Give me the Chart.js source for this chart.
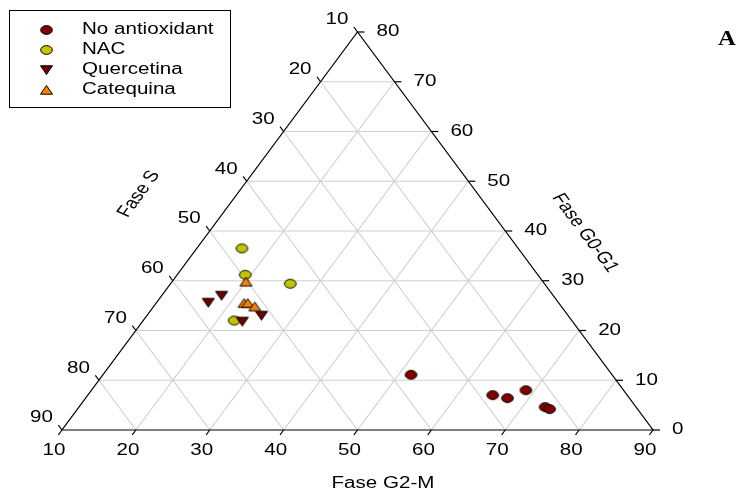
<!DOCTYPE html>
<html>
<head>
<meta charset="utf-8">
<script src="https://cdn.jsdelivr.net/npm/chart.js@4.4.0/dist/chart.umd.min.js"></script>
<style>
html, body { margin: 0; padding: 0; background: #fff; }
#wrap { width: 743px; height: 498px; }
</style>
</head>
<body>
<div id="wrap"><canvas id="ternary"></canvas></div>
<script>
// cell cycle phases in %, S = 100 - G2-M - G0-G1
var seriesNames = ['No antioxidant', 'NAC', 'Quercetina', 'Catequina'];

var noAntiG2M  = [51.7, 64.8, 67.1, 68.8, 73.1, 73.9];
var noAntiG0G1 = [11.1, 7.0, 6.4, 8.0, 4.6, 4.2];
var nacG2M     = [16.1, 19.2, 26.2, 22.3];
var nacG0G1    = [36.5, 31.2, 29.4, 22.0];
var quercG2M   = [17.0, 18.1, 25.5, 23.5];
var quercG0G1  = [25.6, 27.0, 23.0, 21.8];
var catqG2M    = [20.0, 21.9, 22.4, 23.7];
var catqG0G1   = [29.8, 25.5, 25.5, 24.8];

var g2mTicks  = [10, 20, 30, 40, 50, 60, 70, 80, 90];  // bottom, Fase G2-M
var g0g1Ticks = [0, 10, 20, 30, 40, 50, 60, 70, 80];   // right, Fase G0-G1
var sTicks    = [10, 20, 30, 40, 50, 60, 70, 80, 90];  // left, Fase S

var FONT = "'Liberation Sans', Arial, sans-serif";
var SX = 1.286; // the figure is stretched sideways

// ternary -> cartesian (x along bottom, y = G0-G1)
function toXY(m, g) { return { x: m + g / 2, y: g, s: 100 - m - g }; }
function pts(ms, gs) { return ms.map(function (m, i) { return toXY(m, gs[i]); }); }

function marker(kind, fill) {
  var c = document.createElement('canvas');
  c.width = 15; c.height = 12;
  var k = c.getContext('2d');
  k.beginPath();
  if (kind == 'circle') {
    k.ellipse(7.5, 6, 5.8, 4.4, 0, 0, Math.PI * 2);
  } else if (kind == 'down') {
    k.moveTo(1.5, 1.8); k.lineTo(13.5, 1.8); k.lineTo(7.5, 10.5); k.closePath();
  } else {
    k.moveTo(7.5, 1.5); k.lineTo(13.5, 10.2); k.lineTo(1.5, 10.2); k.closePath();
  }
  k.fillStyle = fill; k.fill();
  k.lineWidth = 1; k.strokeStyle = '#000'; k.stroke();
  return c;
}

var markers = [
  marker('circle', '#800000'),
  marker('circle', '#c4c400'),
  marker('down', '#6e0000'),
  marker('up', '#ff8000')
];

function txt(ctx, s, x, y, align, angle) {
  ctx.save();
  ctx.translate(x, y);
  ctx.scale(SX, 1);
  if (angle) ctx.rotate(angle);
  ctx.textAlign = align;
  ctx.textBaseline = 'middle';
  ctx.fillText(s, 0, 0);
  ctx.restore();
}

var ternaryFrame = {
  id: 'ternaryFrame',
  beforeDatasetsDraw: function (chart) {
    var ctx = chart.ctx, xs = chart.scales.x, ys = chart.scales.y;
    function P(m, g) { return [xs.getPixelForValue(m + g / 2), ys.getPixelForValue(g)]; }
    function line(a, b) { ctx.beginPath(); ctx.moveTo(a[0], a[1]); ctx.lineTo(b[0], b[1]); ctx.stroke(); }

    ctx.save();
    ctx.strokeStyle = '#d0d0d0';
    ctx.lineWidth = 1.2;
    g0g1Ticks.slice(1, -1).forEach(function (g) { line(P(10, g), P(90 - g, g)); });
    g2mTicks.slice(1, -1).forEach(function (m) { line(P(m, 0), P(m, 90 - m)); });
    sTicks.slice(1, -1).forEach(function (s) { line(P(10, 90 - s), P(100 - s, 0)); });

    ctx.strokeStyle = '#000';
    ctx.lineWidth = 1.2;
    var a = P(10, 0), b = P(90, 0), c = P(10, 80);
    ctx.beginPath();
    ctx.moveTo(a[0], a[1]); ctx.lineTo(b[0], b[1]); ctx.lineTo(c[0], c[1]); ctx.closePath();
    ctx.stroke();

    ctx.fillStyle = '#000';
    ctx.font = '16px ' + FONT;
    g2mTicks.forEach(function (m) {
      var p = P(m, 0);
      line(p, [p[0] - 3.6, p[1] + 4.8]);
      txt(ctx, String(m), p[0] - 8, p[1] + 21, 'center');
    });
    g0g1Ticks.forEach(function (g) {
      var p = P(90 - g, g);
      line(p, [p[0] + 7, p[1]]);
      txt(ctx, String(g), p[0] + 19, p[1], 'left');
    });
    sTicks.forEach(function (s) {
      var p = P(10, 90 - s);
      line(p, [p[0] - 3.6, p[1] - 4.8]);
      txt(ctx, String(s), p[0] - 9, p[1] - 12, 'right');
    });

    txt(ctx, 'Fase G2-M', 383, 484, 'center');
    txt(ctx, 'Fase S', 139, 194, 'center', -Math.PI / 3);
    txt(ctx, 'Fase G0-G1', 585, 233, 'center', Math.PI / 3);
    ctx.restore();
  },
  afterDraw: function (chart) {
    var ctx = chart.ctx;
    ctx.save();
    ctx.strokeStyle = '#000';
    ctx.lineWidth = 1;
    ctx.strokeRect(9.5, 10.5, 221, 97);
    ctx.fillStyle = '#000';
    ctx.font = '16px ' + FONT;
    seriesNames.forEach(function (name, i) {
      var y = 30 + i * 20;
      ctx.drawImage(markers[i], 46.5 - 7.5, y - 6);
      txt(ctx, name, 82, y, 'left');
    });
    ctx.font = 'bold 22px ' + "'Liberation Serif', 'Times New Roman', serif";
    ctx.save();
    ctx.translate(727, 39);
    ctx.scale(1.12, 1);
    ctx.textAlign = 'center';
    ctx.textBaseline = 'middle';
    ctx.fillText('A', 0, 0);
    ctx.restore();
    ctx.restore();
  }
};

var allG2M = [noAntiG2M, nacG2M, quercG2M, catqG2M];
var allG0G1 = [noAntiG0G1, nacG0G1, quercG0G1, catqG0G1];

new Chart(document.getElementById('ternary'), {
  type: 'scatter',
  data: {
    datasets: seriesNames.map(function (name, i) {
      return {
        label: name,
        data: pts(allG2M[i], allG0G1[i]),
        pointStyle: markers[i],
        pointRadius: 6,
        order: 4 - i,
        clip: false
      };
    })
  },
  options: {
    responsive: true,
    maintainAspectRatio: false,
    animation: false,
    layout: { padding: { left: 62, right: 90, top: 32, bottom: 68 } },
    scales: {
      x: { type: 'linear', min: 10, max: 90, display: false },
      y: { type: 'linear', min: 0, max: 80, display: false }
    },
    plugins: {
      legend: { display: false },
      tooltip: {
        callbacks: {
          label: function (c) {
            var p = c.raw;
            return c.dataset.label + ': G2-M ' + (p.x - p.y / 2).toFixed(1) + ', G0-G1 ' + p.y + ', S ' + p.s.toFixed(1);
          }
        }
      }
    }
  },
  plugins: [ternaryFrame]
});
</script>
</body>
</html>
